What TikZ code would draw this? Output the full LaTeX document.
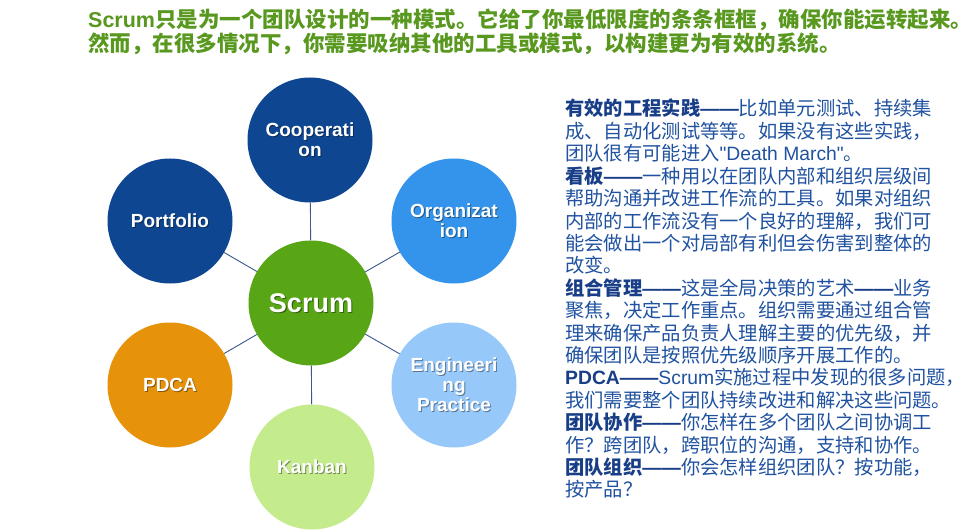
\documentclass[tikz,border=0pt]{standalone}
\usepackage{fontspec}
\setmainfont{Liberation Sans}[Ligatures=TeXOff]
\newfontfamily\cjkf{Noto Sans CJK SC}
\definecolor{titlegreen}{RGB}{88,152,30}
\definecolor{darkblue}{RGB}{14,70,145}
\definecolor{midblue}{RGB}{52,148,235}
\definecolor{lightblue}{RGB}{150,200,250}
\definecolor{lightgreen}{RGB}{196,236,140}
\definecolor{orangec}{RGB}{230,146,10}
\definecolor{scrumgreen}{RGB}{88,165,22}
\definecolor{linkc}{RGB}{60,90,140}
\definecolor{bodyblue}{RGB}{32,82,160}
\definecolor{boldblue}{RGB}{24,62,135}
\newcommand\myhd[1]{{\cjkf\bfseries\color{boldblue}#1}}
\newcommand\mydash{{\bfseries\color{boldblue}——}}
\newcommand\zhtxt[1]{{\cjkf #1}}
\begin{document}
\begin{tikzpicture}[x=1pt,y=-1pt,
 circ/.style={circle,minimum size=125pt,inner sep=0pt},
 ctext/.style={text=white,font=\fontsize{19}{20}\selectfont\bfseries,align=center},
 cshadow/.style={ctext,text=black,opacity=0.4},
 link/.style={draw=linkc,line width=0.9pt},
 body/.style={anchor=base west,inner sep=0pt,text=bodyblue,font=\fontsize{19.3}{22}\selectfont},
 titletext/.style={anchor=base west,inner sep=0pt,text=titlegreen,font=\fontsize{21.5}{25}\selectfont\bfseries}]
\useasboundingbox (0,0) rectangle (980,532);
\fill[white] (0,0) rectangle (980,532);
% title
\node[titletext] (t1) at (88,28) {Scrum{\cjkf 只是为一个团队设计的一种模式。它给了你最低限度的条条框框，确保你能运转起来。}};
\node[titletext] (t2) at (88,52) {{\cjkf 然而，在很多情况下，你需要吸纳其他的工具或模式，以构建更为有效的系统。}};
% circles
\node[circ,fill=scrumgreen] (scrum) at (311,303) {};
\node[circ,fill=darkblue] (coop) at (310,140) {};
\node[circ,fill=darkblue] (port) at (170,221) {};
\node[circ,fill=midblue] (org) at (454,221) {};
\node[circ,fill=orangec] (pdca) at (170,385) {};
\node[circ,fill=lightblue] (eng) at (454,385) {};
\node[circ,fill=lightgreen] (kan) at (312,467) {};
% connectors
\draw[link] (scrum) -- (coop);
\draw[link] (scrum) -- (port);
\draw[link] (scrum) -- (org);
\draw[link] (scrum) -- (pdca);
\draw[link] (scrum) -- (eng);
\draw[link] (scrum) -- (kan);
% circle labels
\node[cshadow,font=\fontsize{27}{28}\selectfont\bfseries] (scrumS) at ([shift={(1.2,1.2)}]scrum) {Scrum};
\node[ctext,font=\fontsize{27}{28}\selectfont\bfseries] (scrumL) at (scrum) {Scrum};
\node[cshadow] (coopS) at ([shift={(1,1)}]coop) {Cooperati\\on};
\node[ctext] (coopL) at (coop) {Cooperati\\on};
\node[cshadow] (portS) at ([shift={(1,1)}]port) {Portfolio};
\node[ctext] (portL) at (port) {Portfolio};
\node[cshadow] (orgS) at ([shift={(1,1)}]org) {Organizat\\ion};
\node[ctext] (orgL) at (org) {Organizat\\ion};
\node[cshadow] (pdcaS) at ([shift={(1,1)}]pdca) {PDCA};
\node[ctext] (pdcaL) at (pdca) {PDCA};
\node[cshadow] (engS) at ([shift={(1,1)}]eng) {Engineeri\\ng\\Practice};
\node[ctext] (engL) at (eng) {Engineeri\\ng\\Practice};
\node[cshadow] (kanS) at ([shift={(1,1)}]kan) {Kanban};
\node[ctext] (kanL) at (kan) {Kanban};
% right text
\node[body] (l1) at (565,116.0) {\myhd{有效的工程实践}\mydash\zhtxt{比如单元测试、持续集}};
\node[body] (l2) at (565,138.4) {\zhtxt{成、自动化测试等等。如果没有这些实践，}};
\node[body] (l3) at (565,160.8) {\zhtxt{团队很有可能进入}"Death March"\zhtxt{。}};
\node[body] (l4) at (565,183.2) {\myhd{看板}\mydash\zhtxt{一种用以在团队内部和组织层级间}};
\node[body] (l5) at (565,205.6) {\zhtxt{帮助沟通并改进工作流的工具。如果对组织}};
\node[body] (l6) at (565,228.0) {\zhtxt{内部的工作流没有一个良好的理解，我们可}};
\node[body] (l7) at (565,250.4) {\zhtxt{能会做出一个对局部有利但会伤害到整体的}};
\node[body] (l8) at (565,272.8) {\zhtxt{改变。}};
\node[body] (l9) at (565,295.2) {\myhd{组合管理}\mydash\zhtxt{这是全局决策的艺术}\mydash\zhtxt{业务}};
\node[body] (l10) at (565,317.6) {\zhtxt{聚焦，决定工作重点。组织需要通过组合管}};
\node[body] (l11) at (565,340.0) {\zhtxt{理来确保产品负责人理解主要的优先级，并}};
\node[body] (l12) at (565,362.4) {\zhtxt{确保团队是按照优先级顺序开展工作的。}};
\node[body] (l13) at (565,384.8) {{\bfseries\color{boldblue}PDCA}\mydash Scrum\zhtxt{实施过程中发现的很多问题，}};
\node[body] (l14) at (565,407.2) {\zhtxt{我们需要整个团队持续改进和解决这些问题。}};
\node[body] (l15) at (565,429.6) {\myhd{团队协作}\mydash\zhtxt{你怎样在多个团队之间协调工}};
\node[body] (l16) at (565,452.0) {\zhtxt{作？跨团队，跨职位的沟通，支持和协作。}};
\node[body] (l17) at (565,474.4) {\myhd{团队组织}\mydash\zhtxt{你会怎样组织团队？按功能，}};
\node[body] (l18) at (565,496.8) {\zhtxt{按产品？}};
\end{tikzpicture}
\end{document}
